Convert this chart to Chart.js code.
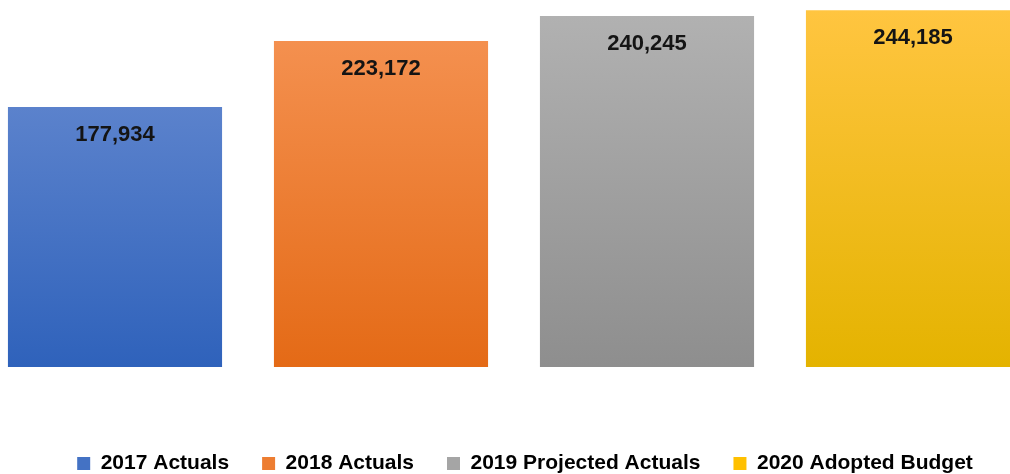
<!DOCTYPE html>
<html lang="en">
<head>
    <meta charset="UTF-8">
    <title>Budget Comparison</title>
    <script src="https://cdn.jsdelivr.net/npm/chart.js"></script>
    <style>
        body {
            margin: 0;
            background: #ffffff;
            overflow: hidden;
        }
        .wrap {
            position: relative;
            width: 1010px;
            height: 474px;
            overflow: hidden;
        }
        #budgetChart {
            position: absolute;
            left: -18px;
            top: 0;
        }
    </style>
</head>
<body>

<div class="wrap">
    <canvas id="budgetChart" width="1086" height="484"></canvas>
</div>

<script>
    // Series names and values
    const categories = ['2017 Actuals', '2018 Actuals', '2019 Projected Actuals', '2020 Adopted Budget'];
    const values = [177934, 223172, 240245, 244185];

    // Colours (gradient top / bottom, legend swatch)
    const topColors = ['#5b82cc', '#f4904f', '#b1b1b1', '#ffc540'];
    const bottomColors = ['#2f62bb', '#e46a16', '#8e8e8e', '#e4b300'];
    const legendColors = ['#4472c4', '#ed7d31', '#a5a5a5', '#ffc000'];

    const fontFamily = '"Liberation Sans", Arial, sans-serif';

    function barGradient(c, i) {
        const chart = c.chart;
        if (!chart.chartArea) return legendColors[i];
        const y = chart.scales.y;
        const g = chart.ctx.createLinearGradient(0, y.getPixelForValue(values[i]), 0, y.getPixelForValue(0));
        g.addColorStop(0, topColors[i]);
        g.addColorStop(1, bottomColors[i]);
        return g;
    }

    // Value labels inside each bar, near the top
    const valueLabels = {
        id: 'valueLabels',
        afterDatasetsDraw(chart) {
            const ctx = chart.ctx;
            ctx.save();
            ctx.font = 'bold 22px ' + fontFamily;
            ctx.fillStyle = '#141414';
            ctx.textAlign = 'center';
            ctx.textBaseline = 'middle';
            chart.data.datasets.forEach((ds, i) => {
                const bar = chart.getDatasetMeta(i).data[0];
                ctx.fillText(ds.data[0].toLocaleString('en-US'), bar.x, bar.y + 28);
            });
            ctx.restore();
        }
    };

    new Chart(document.getElementById('budgetChart'), {
        type: 'bar',
        data: {
            labels: [''],
            datasets: categories.map((name, i) => ({
                label: name,
                data: [values[i]],
                backgroundColor: c => barGradient(c, i),
                borderWidth: 0
            }))
        },
        options: {
            responsive: false,
            animation: false,
            layout: { padding: 0 },
            datasets: {
                bar: { barPercentage: 0.805, categoryPercentage: 1 }
            },
            scales: {
                x: {
                    display: true,
                    ticks: { display: false },
                    grid: { display: false },
                    border: { display: false },
                    afterFit: s => { s.height = 53; }
                },
                y: {
                    position: 'right',
                    min: 0,
                    max: 251200,
                    ticks: { display: false },
                    grid: { display: false },
                    border: { display: false },
                    afterFit: s => { s.width = 22; }
                }
            },
            plugins: {
                tooltip: { enabled: false },
                legend: {
                    position: 'bottom',
                    labels: {
                        boxWidth: 13,
                        boxHeight: 13,
                        padding: 33,
                        color: '#1a1a1a',
                        font: { family: fontFamily, size: 21, weight: 'bold' },
                        generateLabels: chart => chart.data.datasets.map((ds, i) => ({
                            text: ds.label,
                            fillStyle: legendColors[i],
                            strokeStyle: legendColors[i],
                            lineWidth: 0,
                            datasetIndex: i
                        }))
                    }
                }
            }
        },
        plugins: [valueLabels]
    });
</script>

</body>
</html>
